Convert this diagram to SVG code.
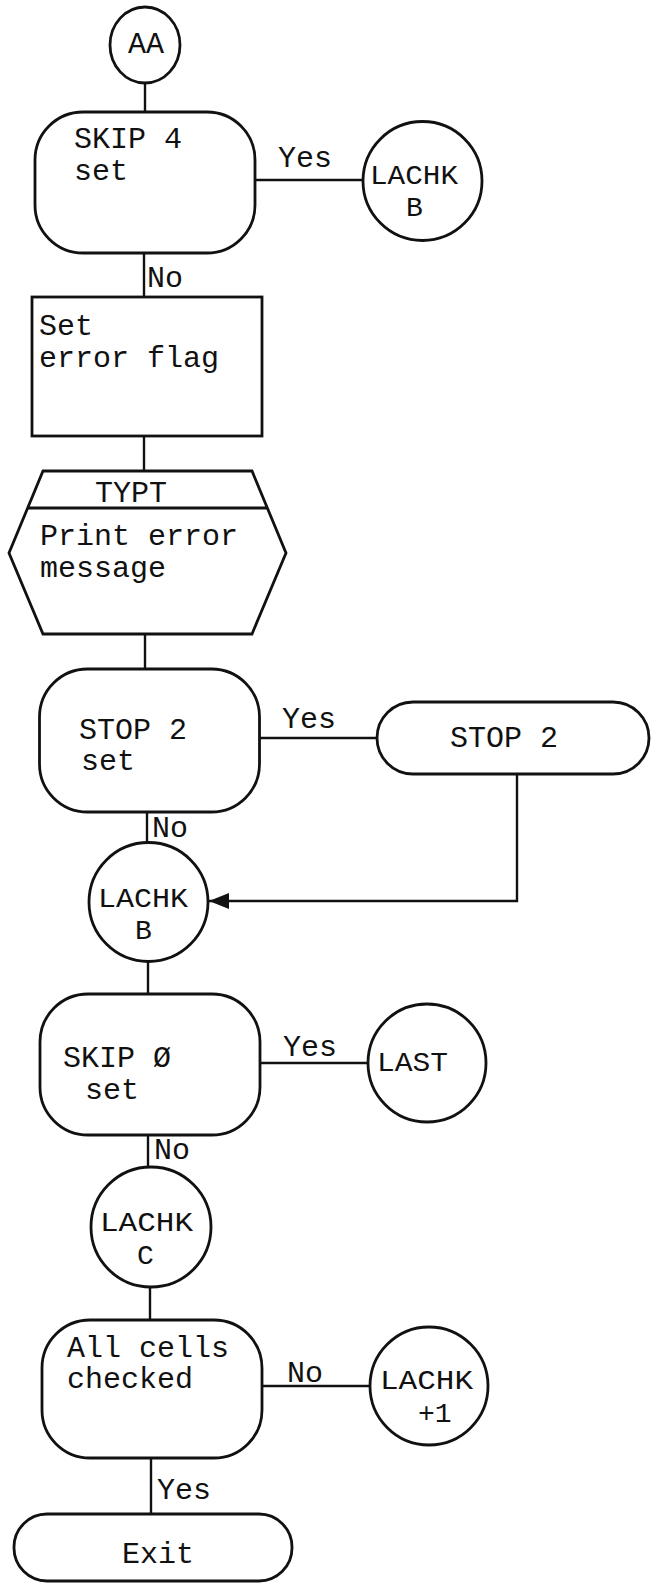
<svg xmlns="http://www.w3.org/2000/svg" width="651" height="1583" viewBox="0 0 651 1583">
<style>
.s{fill:#fff;stroke:#111;stroke-width:2.8}
.c{fill:none;stroke:#111;stroke-width:2.4}
text{font-family:"Liberation Mono","DejaVu Sans Mono",monospace;font-size:30px;fill:#111}
.l{font-size:28px}
</style>
<defs>
<marker id="ah" viewBox="0 0 20 16" refX="20" refY="8" markerWidth="20" markerHeight="16" markerUnits="userSpaceOnUse" orient="auto">
<path d="M0,0 L20,8 L0,16 Z" fill="#111"/>
</marker>
</defs>
<rect width="651" height="1583" fill="#fff"/>
<g id="connectors">
<path class="c" d="M145,83 V112"/>
<path class="c" d="M255,180 H363"/>
<path class="c" d="M144,253 V297"/>
<path class="c" d="M144,436 V471"/>
<path class="c" d="M145,634 V669"/>
<path class="c" d="M260,738 H377"/>
<path class="c" d="M147,812 V843"/>
<path class="c" d="M517,774 V901 H209" marker-end="url(#ah)"/>
<path class="c" d="M148,962 V994"/>
<path class="c" d="M260,1063 H368"/>
<path class="c" d="M148,1135 V1167"/>
<path class="c" d="M150,1287 V1320"/>
<path class="c" d="M262,1386 H370"/>
<path class="c" d="M151,1458 V1514"/>
<text x="278" y="167">Yes</text>
<text x="147" y="287">No</text>
<text x="282" y="728">Yes</text>
<text x="152" y="837">No</text>
<text x="283" y="1056">Yes</text>
<text x="154" y="1159">No</text>
<text x="287" y="1382">No</text>
<text x="157" y="1499">Yes</text>
</g>
<g id="AA">
<ellipse class="s" cx="145" cy="45" rx="35" ry="38"/>
<text x="128" y="53">AA</text>
</g>
<g id="skip4">
<rect class="s" x="35" y="112" width="220" height="141" rx="48" ry="48"/>
<text x="74" y="148">SKIP 4</text>
<text x="74" y="180">set</text>
</g>
<g id="lachkB1">
<circle class="s" cx="422.5" cy="181" r="59.5"/>
<text class="l" x="370" y="184" textLength="88" lengthAdjust="spacingAndGlyphs">LACHK</text>
<text class="l" x="406" y="216">B</text>
</g>
<g id="setErrorFlag">
<rect class="s" x="32" y="297" width="230" height="139"/>
<text x="39" y="335">Set</text>
<text x="39" y="367">error flag</text>
</g>
<g id="typt">
<path class="s" d="M43,471 H252 L286,553 L252,634 H43 L9,553 Z"/>
<path class="c" d="M28,508 H267" style="stroke-width:3"/>
<text x="95" y="502">TYPT</text>
<text x="40" y="545">Print error</text>
<text x="40" y="577">message</text>
</g>
<g id="stop2set">
<rect class="s" x="39.5" y="669" width="220" height="143" rx="48" ry="48"/>
<text x="79" y="739">STOP 2</text>
<text x="81" y="770">set</text>
</g>
<g id="stop2">
<rect class="s" x="377" y="702" width="272" height="72" rx="36" ry="36"/>
<text x="450" y="747">STOP 2</text>
</g>
<g id="lachkB2">
<circle class="s" cx="148.5" cy="902" r="59.5"/>
<text class="l" x="98" y="907" textLength="90" lengthAdjust="spacingAndGlyphs">LACHK</text>
<text class="l" x="135" y="939">B</text>
</g>
<g id="skip0">
<rect class="s" x="40" y="994" width="220" height="141" rx="48" ry="48"/>
<text x="63" y="1067">SKIP Ø</text>
<text x="85" y="1099">set</text>
</g>
<g id="last">
<circle class="s" cx="427" cy="1063" r="59"/>
<text class="l" x="377" y="1071" textLength="71" lengthAdjust="spacingAndGlyphs">LAST</text>
</g>
<g id="lachkC">
<circle class="s" cx="151" cy="1227" r="60"/>
<text class="l" x="100" y="1231" textLength="93" lengthAdjust="spacingAndGlyphs">LACHK</text>
<text class="l" x="137" y="1264">C</text>
</g>
<g id="allCells">
<rect class="s" x="42" y="1320" width="220" height="138" rx="48" ry="48"/>
<text x="67" y="1357">All cells</text>
<text x="67" y="1388">checked</text>
</g>
<g id="lachkPlus1">
<circle class="s" cx="429" cy="1386" r="59"/>
<text class="l" x="380" y="1389" textLength="93" lengthAdjust="spacingAndGlyphs">LACHK</text>
<text class="l" x="418" y="1422">+1</text>
</g>
<g id="exit">
<rect class="s" x="14" y="1514" width="278" height="67" rx="33" ry="33"/>
<text x="122" y="1563">Exit</text>
</g>
</svg>
